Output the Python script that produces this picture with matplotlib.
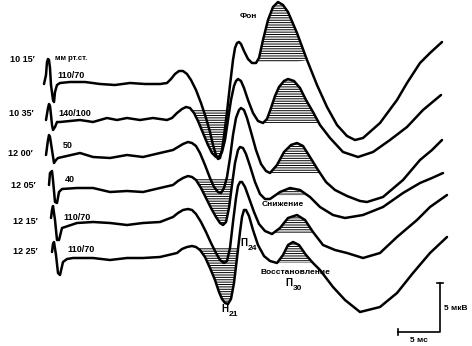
import numpy as np
import matplotlib.pyplot as plt

plt.rcParams['font.family'] = ['Liberation Sans', 'DejaVu Sans']
plt.rcParams['hatch.linewidth'] = 0.7

# traces (x: time, y: potential, picture units, y down)
t1x = [44, 46, 47, 48, 49, 50, 51, 53, 54, 55, 57, 60, 70, 85, 100, 115, 130, 145, 160, 167, 171, 175, 179, 183, 187, 191, 196, 201, 206, 210, 213, 216, 218, 220, 222, 224, 227, 230, 233, 235, 237, 239, 241, 244, 248, 252, 256, 259, 263, 268, 273, 278, 283, 288, 297, 307, 317, 327, 337, 347, 355, 363, 380, 397, 407, 420, 430, 442]
t1y = [84, 75, 62, 59, 60, 68, 85, 100, 102, 92, 85, 83, 82, 82, 84, 85, 83, 84, 84, 83, 79, 74, 71, 71, 74, 80, 90, 103, 118, 132, 145, 155, 159, 158, 150, 136, 112, 85, 60, 48, 43, 42, 44, 51, 59, 63, 63, 58, 40, 20, 7, 2, 5, 12, 33, 60, 85, 107, 125, 136, 140, 138, 123, 100, 83, 63, 53, 42]

t2x = [46, 48, 49, 50, 51, 52, 53, 55, 57, 60, 80, 93, 107, 117, 127, 140, 153, 167, 172, 177, 182, 186, 190, 194, 198, 203, 208, 212, 216, 219, 222, 225, 228, 231, 234, 236, 238, 241, 244, 248, 253, 258, 263, 267, 271, 275, 279, 284, 288, 294, 300, 306, 313, 320, 330, 343, 358, 373, 390, 407, 423, 441]
t2y = [120, 108, 104, 106, 115, 125, 130, 127, 122, 122, 120, 122, 118, 120, 118, 120, 118, 120, 118, 113, 109, 107, 108, 113, 121, 133, 145, 153, 157, 157, 152, 140, 120, 100, 86, 81, 79, 81, 88, 100, 113, 121, 123, 119, 108, 96, 87, 81, 79, 81, 88, 100, 112, 125, 138, 152, 157, 152, 140, 127, 110, 95]

t3x = [46, 48, 49, 50, 52, 54, 56, 58, 80, 93, 110, 127, 143, 160, 173, 178, 183, 188, 192, 196, 200, 205, 210, 214, 218, 221, 224, 227, 230, 233, 236, 239, 241, 244, 247, 251, 256, 261, 266, 270, 277, 284, 291, 297, 303, 310, 318, 326, 335, 347, 360, 367, 383, 403, 420, 432, 442]
t3y = [155, 140, 135, 137, 150, 163, 160, 158, 153, 157, 158, 155, 157, 153, 150, 147, 144, 142, 143, 146, 153, 165, 178, 187, 192, 193, 188, 177, 158, 135, 118, 110, 108, 110, 118, 132, 150, 164, 171, 173, 165, 152, 145, 143, 146, 157, 170, 182, 190, 196, 201, 202, 197, 180, 160, 150, 140]

t4x = [49, 50, 52, 53, 55, 57, 59, 62, 77, 93, 110, 127, 143, 160, 173, 178, 183, 188, 192, 196, 201, 206, 211, 216, 220, 223, 226, 229, 232, 235, 238, 240, 243, 246, 250, 255, 260, 265, 270, 280, 290, 300, 310, 320, 333, 345, 363, 383, 403, 420, 432, 443]
t4y = [185, 173, 171, 180, 202, 203, 192, 189, 188, 188, 192, 191, 192, 188, 185, 181, 178, 176, 177, 180, 188, 198, 208, 217, 223, 225, 222, 208, 185, 163, 150, 147, 148, 154, 166, 182, 194, 199, 199, 192, 188, 190, 197, 207, 215, 218, 215, 207, 193, 183, 178, 173]

t5x = [51, 52, 53, 55, 57, 59, 62, 65, 77, 93, 110, 127, 143, 160, 173, 178, 183, 188, 192, 196, 201, 206, 211, 216, 220, 224, 227, 230, 233, 236, 238, 240, 242, 245, 249, 254, 259, 265, 272, 280, 288, 297, 305, 313, 323, 335, 347, 363, 380, 397, 417, 430, 447]
t5y = [218, 210, 206, 220, 240, 240, 228, 227, 223, 222, 223, 225, 223, 222, 217, 213, 210, 209, 210, 214, 222, 232, 243, 253, 260, 263, 261, 248, 222, 198, 186, 182, 182, 187, 198, 212, 224, 231, 234, 228, 218, 215, 220, 232, 245, 250, 253, 258, 253, 237, 220, 207, 195]

t6x = [52, 53, 54, 56, 58, 60, 63, 67, 73, 93, 110, 127, 143, 160, 177, 182, 187, 192, 196, 200, 205, 210, 215, 219, 222, 225, 228, 231, 234, 237, 240, 242, 244, 246, 249, 253, 258, 264, 270, 277, 283, 288, 293, 299, 306, 313, 320, 333, 345, 360, 380, 397, 413, 430, 447]
t6y = [252, 244, 242, 255, 273, 275, 262, 259, 258, 258, 260, 258, 258, 257, 253, 249, 247, 246, 247, 250, 257, 268, 280, 292, 299, 303, 304, 299, 283, 258, 232, 217, 210, 210, 216, 230, 245, 256, 261, 263, 255, 245, 242, 245, 255, 263, 270, 287, 300, 312, 307, 293, 273, 253, 237]

traces_x = [t1x, t2x, t3x, t4x, t5x, t6x]
traces_y = [t1y, t2y, t3y, t4y, t5y, t6y]

times = ["10 15\u2032", "10 35\u2032", "12 00\u2032", "12 05\u2032", "12 15\u2032", "12 25\u2032"]
pressures = ["110/70", "140/100", "50", "40", "110/70", "110/70"]

# shaded components: (trace, x from, x to, chord level)
n21_shade = [(1, 186, 236, 109), (3, 188, 238, 178), (5, 190, 242, 247)]
p30_shade = [(0, 252, 306, 62), (1, 260, 318, 123), (2, 268, 322, 173),
             (3, 275, 312, 196), (4, 270, 322, 233), (5, 275, 318, 263)]

fig = plt.figure(figsize=(4.72, 3.46), dpi=100)
ax = fig.add_axes([0, 0, 1, 1])
ax.set_xlim(0, 472)
ax.set_ylim(346, 0)
ax.axis('off')

for i, x0, x1, yc in n21_shade:
    x = np.array(traces_x[i]); y = np.array(traces_y[i])
    m = (x >= x0) & (x <= x1) & (y >= yc)
    ax.fill_between(x, y, yc, where=m, interpolate=True, facecolor='none',
                    edgecolor='k', hatch='-------', linewidth=0)
for i, x0, x1, yc in p30_shade:
    x = np.array(traces_x[i]); y = np.array(traces_y[i])
    m = (x >= x0) & (x <= x1) & (y <= yc)
    ax.fill_between(x, y, yc, where=m, interpolate=True, facecolor='none',
                    edgecolor='k', hatch='-------', linewidth=0)

for x, y in zip(traces_x, traces_y):
    ax.plot(x, y, color='k', lw=1.8, solid_joinstyle='round', solid_capstyle='round')

time_y = [60, 113, 153, 185, 222, 252]
time_x = [22, 21, 20, 23, 25, 25]
pres_x = [57, 58, 63, 65, 63, 67]
pres_y = [76, 113, 146, 180, 217, 250]
for i in range(6):
    ax.text(time_x[i], time_y[i], times[i], ha='center', va='center', fontsize=6.5, fontweight='bold')
    ax.text(pres_x[i], pres_y[i], pressures[i], ha='left', va='center', fontsize=6.5, fontweight='bold')
ax.text(55, 59, "мм рт.ст.", ha='left', va='center', fontsize=5.5, fontweight='bold')

ax.text(248, 16, "Фон", ha='center', va='center', fontsize=6, fontweight='bold')
ax.text(283, 205, "Снижение", ha='center', va='center', fontsize=6, fontweight='bold')
ax.text(295, 273, "Восстановление", ha='center', va='center', fontsize=6, fontweight='bold')
ax.text(285, 283, "П", ha='left', va='center', fontsize=7, fontweight='bold')
ax.text(293, 288, "30", ha='left', va='center', fontsize=6, fontweight='bold')
ax.text(240, 243, "П", ha='left', va='center', fontsize=7, fontweight='bold')
ax.text(248, 249, "24", ha='left', va='center', fontsize=6, fontweight='bold')
ax.text(221, 309, "Н", ha='left', va='center', fontsize=7, fontweight='bold')
ax.text(229, 315, "21", ha='left', va='center', fontsize=6, fontweight='bold')

# scale bar
ax.plot([398, 440, 440], [332, 332, 283], color='k', lw=1.2)
ax.plot([437, 443], [283, 283], color='k', lw=1.2)
ax.plot([398, 398], [329, 335], color='k', lw=1.2)
ax.text(444, 308, "5 мкВ", ha='left', va='center', fontsize=6, fontweight='bold')
ax.text(419, 340, "5 мс", ha='center', va='center', fontsize=6, fontweight='bold')

fig.savefig('out.png', dpi=100)
